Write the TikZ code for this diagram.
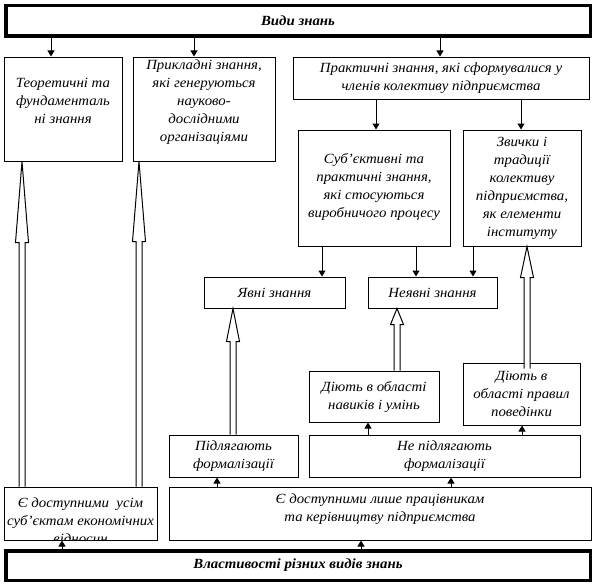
\documentclass[tikz,border=0pt]{standalone}
\usepackage{fontspec}
\setmainfont{Liberation Serif}[FakeStretch=1.06]
\usetikzlibrary{arrows.meta,calc}
\newcommand\bx[6][]{%
  \node[box,#1,minimum width={#5-#3},minimum height={#6-#4}] (#2) at ({(#3+#5)/2},{(#4+#6)/2}) {};}
\newcommand\hollowarr[5]{%
  \draw[hollowst] ($(#1.north -| #3)+(-3,#5)$) -- ($(#2.south -| #3)+(-3,#4)$)
    -- ($(#2.south -| #3)+(-6.5,#4)$) -- (#2.south -| #3) -- ($(#2.south -| #3)+(6.5,#4)$)
    -- ($(#2.south -| #3)+(3,#4)$) -- ($(#1.north -| #3)+(3,#5)$);}
\begin{document}
\begin{tikzpicture}[x=1pt,y=-1pt,
  box/.style={draw,line width=1pt,inner sep=0pt},
  thickbox/.style={draw,line width=3.5pt,inner sep=0pt},
  txt/.style={font=\itshape\fontsize{14}{18}\selectfont,align=center,inner sep=0pt},
  ttl/.style={font=\bfseries\itshape\fontsize{14}{17}\selectfont,align=center,inner sep=0pt},
  arr/.style={line width=1pt,-{Triangle[length=6pt,width=7pt]}},
  hollowst/.style={line width=1pt,fill=white,line join=miter}]
\useasboundingbox (0,0) rectangle (596,586);
% boxes
\bx[thickbox]{title}{5.75}{5.75}{590.25}{36.25}
\bx{teor}{4}{57}{122}{161}
\bx{prykl}{133}{57}{275}{161}
\bx{prakt}{293}{57}{589}{99}
\bx{subj}{298}{130}{450}{246}
\bx{zvych}{463}{130}{581}{246}
\bx{yavni}{204}{277}{345}{308}
\bx{neyavni}{368}{277}{497}{308}
\bx{diyut1}{309}{371}{439}{422}
\bx{diyut2}{463}{363}{580}{425}
\bx{pidl}{169}{435}{298}{477}
\bx{nepidl}{309}{435}{580}{477}
\bx{usim}{4}{487}{157}{540}
\bx{lyshe}{169}{487}{591}{540}
\bx[thickbox]{vlast}{5.75}{550.75}{590.25}{580.25}
% texts
\node[ttl] (title-t) at (title.center) {Види знань};
\node[ttl] (vlast-t) at (vlast.center) {Властивості різних видів знань};
\node[txt] (teor-t) at ($(teor.center)+(0,-8)$) {Теоретичні та\\фундаменталь\\ні знання};
\node[txt] (prykl-t) at ($(prykl.center)+(0,-7)$) {Прикладні знання,\\які генеруються\\науково-\\дослідними\\організаціями};
\node[txt] (prakt-t) at (prakt.center) {Практичні знання, які сформувалися у\\членів колективу підприємства};
\node[txt] (subj-t) at ($(subj.center)+(0,-1)$) {Суб'єктивні та\\практичні знання,\\які стосуються\\виробничого процесу};
\node[txt] (zvych-t) at (zvych.center) {Звички і\\традиції\\колективу\\підприємства,\\як елементи\\інституту};
\node[txt] (yavni-t) at (yavni.center) {Явні знання};
\node[txt] (neyavni-t) at (neyavni.center) {Неявні знання};
\node[txt] (diyut1-t) at (diyut1.center) {Діють в області\\навиків і умінь};
\node[txt] (diyut2-t) at (diyut2.center) {Діють в\\області правил\\поведінки};
\node[txt] (pidl-t) at (pidl.center) {Підлягають\\формалізації};
\node[txt] (nepidl-t) at (nepidl.center) {Не підлягають\\формалізації};
\node[txt] (lyshe-t) at ($(lyshe.center)+(0,-4)$) {Є доступними лише працівникам\\ та керівництву підприємства};
\begin{scope}
\clip (usim.south west) rectangle (usim.north east);
\node[txt] (usim-t) at ($(usim.center)+(0,7)$) {Є доступними~ усім\\суб'єктам економічних\\відносин};
\end{scope}
% x positions
\foreach \n/\x in {a1/51,a2/194,a3/440,a4/376,a5/521,a6/322,a7/416,a8/473,a9/368,a10/522,a11/217,a12/451,a13/62,a14/361,h1/22,h2/139,h3/233,h4/397,h5/527}
  \coordinate (\n) at (\x,0);
% filled arrows
\draw[arr] (title.south -| a1) -- (teor.north -| a1);
\draw[arr] (title.south -| a2) -- (prykl.north -| a2);
\draw[arr] (title.south -| a3) -- (prakt.north -| a3);
\draw[arr] (prakt.south -| a4) -- (subj.north -| a4);
\draw[arr] (prakt.south -| a5) -- (zvych.north -| a5);
\draw[arr] (subj.south -| a6) -- (yavni.north -| a6);
\draw[arr] (subj.south -| a7) -- (neyavni.north -| a7);
\draw[arr] (zvych.south -| a8) -- (neyavni.north -| a8);
\draw[arr] (nepidl.north -| a9) -- (diyut1.south -| a9);
\draw[arr] (nepidl.north -| a10) -- (diyut2.south -| a10);
\draw[arr] (lyshe.north -| a11) -- (pidl.south -| a11);
\draw[arr] (lyshe.north -| a12) -- (nepidl.south -| a12);
\draw[arr] (vlast.north -| a13) -- (usim.south -| a13);
\draw[arr] (vlast.north -| a14) -- (lyshe.south -| a14);
% hollow arrows
\hollowarr{usim}{teor}{h1}{81}{0}
\hollowarr{usim}{prykl}{h2}{80}{0}
\hollowarr{pidl}{yavni}{h3}{33}{0}
\hollowarr{diyut1}{neyavni}{h4}{16}{0}
\hollowarr{diyut2}{zvych}{h5}{31}{6}
\end{tikzpicture}
\end{document}
